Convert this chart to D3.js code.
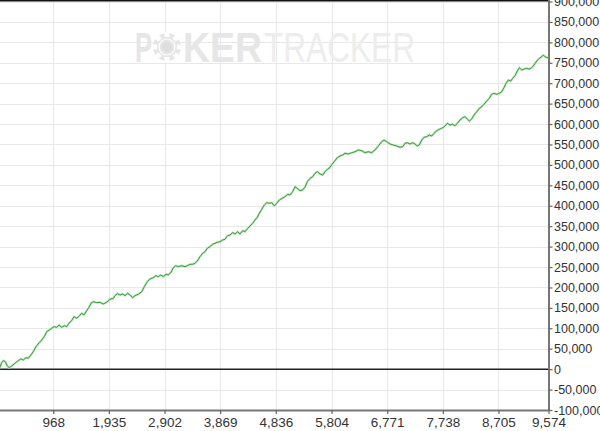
<!DOCTYPE html>
<html>
<head>
<meta charset="utf-8">
<script src="https://cdn.jsdelivr.net/npm/d3@7"></script>
<style>
  html, body { margin: 0; padding: 0; background: #fff; }
  svg { display: block; }
</style>
</head>
<body>
<svg id="chart" width="600" height="431"></svg>
<script>
// ---- data ----
const hands = [
  0, 43, 73, 101, 136, 170, 205, 247, 304, 361,
  403, 448, 495, 535, 577, 622, 669, 726, 768, 813,
  855, 900, 942, 987, 1029, 1069, 1116, 1161, 1202, 1242,
  1289, 1329, 1376, 1421, 1463, 1503, 1550, 1590, 1625, 1665,
  1724, 1781, 1838, 1897, 1955, 2012, 2042, 2082, 2129, 2176,
  2215, 2262, 2302, 2349, 2389, 2447, 2506, 2551, 2603, 2650,
  2707, 2754, 2794, 2836, 2881, 2928, 2968, 3015, 3055, 3096,
  3142, 3201, 3258, 3298, 3345, 3392, 3432, 3472, 3519, 3566,
  3606, 3645, 3692, 3739, 3779, 3819, 3866, 3913, 3953, 3993,
  4040, 4087, 4127, 4174, 4214, 4261, 4301, 4348, 4387, 4434,
  4474, 4514, 4549, 4591, 4636, 4678, 4723, 4765, 4810, 4851,
  4897, 4949, 4996, 5043, 5082, 5129, 5169, 5209, 5256, 5303,
  5343, 5383, 5430, 5477, 5517, 5557, 5604, 5651, 5691, 5731,
  5778, 5817, 5852, 5904, 5951, 5998, 6038, 6096, 6155, 6212,
  6269, 6328, 6386, 6443, 6502, 6559, 6617, 6676, 6716, 6763,
  6820, 6877, 6936, 6994, 7041, 7081, 7121, 7168, 7215, 7255,
  7294, 7329, 7371, 7411, 7458, 7503, 7545, 7585, 7632, 7677,
  7718, 7764, 7816, 7863, 7909, 7949, 7989, 8036, 8083, 8123,
  8163, 8198, 8240, 8280, 8327, 8372, 8414, 8453, 8500, 8546,
  8587, 8627, 8674, 8719, 8761, 8801, 8836, 8876, 8917, 8952,
  8992, 9032, 9067, 9109, 9149, 9195, 9240, 9282, 9322, 9369,
  9414, 9456, 9484, 9513, 9553, 9574
];
const winnings = [
  0, 4700, 15900, 20800, 18400, 7800, 3700, 7800, 14400, 20800,
  25000, 22500, 28100, 26700, 34000, 42800, 55100, 64900, 71500, 79500,
  91800, 95900, 100100, 104000, 102500, 108200, 102500, 106500, 104000, 112300,
  118700, 128500, 124600, 130200, 136800, 132600, 143200, 151500, 161300, 165200,
  162800, 163700, 159600, 163700, 171000, 173500, 179900, 184800, 181600, 184000,
  179900, 185800, 181600, 175000, 179900, 183300, 189700, 201900, 214100, 220800,
  223900, 228800, 226400, 230500, 226400, 232300, 230500, 237200, 248400, 253300,
  250900, 253300, 250900, 253300, 256700, 256700, 259200, 264800, 275300, 283700,
  287600, 295900, 299800, 305700, 308100, 310600, 312000, 316200, 317900, 326000,
  328400, 334100, 330900, 336500, 330900, 339000, 336500, 344800, 350500, 357100,
  365200, 371800, 381500, 391300, 401900, 407500, 406000, 407500, 399400, 406000,
  414100, 418300, 422200, 428000, 426300, 434400, 446700, 442700, 436900, 438600,
  445200, 458900, 467200, 471100, 479400, 483400, 477700, 475300, 483400, 489200,
  494000, 502200, 508300, 517600, 521800, 524200, 528400, 526700, 529900, 532300,
  536500, 534800, 529900, 532300, 529900, 536500, 546300, 556800, 560900, 556800,
  551200, 548700, 546300, 543100, 544600, 552900, 554300, 551200, 554300, 551200,
  546300, 548700, 560900, 567600, 569000, 573200, 570700, 577300, 583700, 587100,
  589600, 593500, 601800, 597700, 599400, 595900, 601800, 609900, 615500, 618000,
  612300, 607400, 612300, 622100, 630200, 638500, 642400, 648300, 656400, 663000,
  672800, 675200, 672800, 675200, 679200, 688900, 699700, 707800, 705300, 711900,
  718300, 729800, 737900, 732300, 734700, 736400, 734700, 737900, 744500, 754300,
  760900, 764800, 769000, 764800, 762400, 762400
];
const xTicks = [968, 1935, 2902, 3869, 4836, 5804, 6771, 7738, 8705, 9574];
const xTickLabels = ["968", "1,935", "2,902", "3,869", "4,836", "5,804", "6,771", "7,738", "8,705", "9,574"];
const yTicks = [-100000, -50000, 0, 50000, 100000, 150000, 200000, 250000, 300000, 350000,
  400000, 450000, 500000, 550000, 600000, 650000, 700000, 750000, 800000, 850000, 900000];
const yTickLabels = ["-100,000", "-50,000", "0", "50,000", "100,000", "150,000", "200,000", "250,000",
  "300,000", "350,000", "400,000", "450,000", "500,000", "550,000", "600,000", "650,000",
  "700,000", "750,000", "800,000", "850,000", "900,000"];

// ---- layout ----
const plotLeft = 0, plotRight = 548.5, plotTop = 0, plotBottom = 410;
const x = d3.scaleLinear().domain([0, 9574]).range([-2.5, 548.5]);
const y = d3.scaleLinear().domain([-100000, 900000]).range([410, 1.5]);

const svg = d3.select("#chart");
const n = Math.min(hands.length, winnings.length);
const pts = d3.range(n).map(i => ({ h: hands[i], v: winnings[i] }));

svg.append("rect").attr("width", 600).attr("height", 431).attr("fill", "#fff");

svg.append("defs").append("clipPath").attr("id", "plotclip")
  .append("rect").attr("x", plotLeft).attr("y", plotTop)
  .attr("width", plotRight - plotLeft).attr("height", plotBottom - plotTop);

// grid
const grid = svg.append("g");
grid.selectAll("line.h").data(yTicks).join("line")
  .attr("x1", plotLeft).attr("x2", plotRight)
  .attr("y1", d => Math.round(y(d)) + 0.5).attr("y2", d => Math.round(y(d)) + 0.5)
  .attr("stroke", "#e8e8e8").attr("stroke-width", 1);
grid.selectAll("line.v").data(xTicks.slice(0, -1)).join("line")
  .attr("x1", d => Math.round(x(d)) + 0.5).attr("x2", d => Math.round(x(d)) + 0.5)
  .attr("y1", plotTop).attr("y2", plotBottom)
  .attr("stroke", "#e8e8e8").attr("stroke-width", 1);

// watermark
const wm = svg.append("g").attr("class", "watermark");
const wmBase = 62;
wm.append("text").attr("x", 135).attr("y", wmBase)
  .attr("font-family", "Liberation Sans Narrow, Liberation Sans, Arial, sans-serif")
  .attr("font-weight", "bold").attr("font-size", 42).attr("fill", "#e6e6e6")
  .attr("textLength", 17).attr("lengthAdjust", "spacingAndGlyphs").text("P");
const chip = wm.append("g").attr("transform", "translate(167,47)");
chip.append("circle").attr("r", 14).attr("fill", "#e6e6e6");
chip.selectAll("rect").data(d3.range(8)).join("rect")
  .attr("x", -2.5).attr("y", -15).attr("width", 5).attr("height", 5)
  .attr("fill", "#fff").attr("transform", d => `rotate(${d * 45})`);
chip.append("circle").attr("r", 8).attr("fill", "none").attr("stroke", "#fff").attr("stroke-width", 1.2);
chip.append("circle").attr("r", 5).attr("fill", "#dedede");
wm.append("text").attr("x", 183).attr("y", wmBase)
  .attr("font-family", "Liberation Sans Narrow, Liberation Sans, Arial, sans-serif")
  .attr("font-weight", "bold").attr("font-size", 42).attr("fill", "#e6e6e6")
  .attr("textLength", 79).attr("lengthAdjust", "spacingAndGlyphs").text("KER");
wm.append("text").attr("x", 264).attr("y", wmBase)
  .attr("font-family", "Liberation Sans Narrow, Liberation Sans, Arial, sans-serif")
  .attr("font-size", 42).attr("fill", "#ededed")
  .attr("textLength", 151).attr("lengthAdjust", "spacingAndGlyphs").text("TRACKER");

// zero line
svg.append("line")
  .attr("x1", plotLeft).attr("x2", plotRight)
  .attr("y1", y(0)).attr("y2", y(0))
  .attr("stroke", "#222").attr("stroke-width", 1.5);

// top border
svg.append("line")
  .attr("x1", plotLeft).attr("x2", plotRight)
  .attr("y1", 0.75).attr("y2", 0.75)
  .attr("stroke", "#111").attr("stroke-width", 1.5);

// data line
const line = d3.line().x(d => x(d.h)).y(d => y(d.v));
svg.append("path").datum(pts)
  .attr("clip-path", "url(#plotclip)")
  .attr("d", line).attr("fill", "none")
  .attr("stroke", "#b9e3b9").attr("stroke-width", 2.2).attr("stroke-linejoin", "miter");
svg.append("path").datum(pts)
  .attr("clip-path", "url(#plotclip)")
  .attr("d", line).attr("fill", "none")
  .attr("stroke", "#3c9f3c").attr("stroke-width", 1).attr("stroke-linejoin", "miter");

// bottom axis
const xAxis = d3.axisBottom(x).tickValues(xTicks)
  .tickFormat((d, i) => xTickLabels[i]).tickSizeInner(4).tickSizeOuter(0).tickPadding(3);
const gx = svg.append("g").attr("transform", `translate(0,${plotBottom})`).call(xAxis);
gx.select(".domain").attr("d", `M${plotLeft},0.5H${plotRight}`).attr("stroke", "#777").attr("stroke-width", 2);
gx.selectAll(".tick line").attr("stroke", "#666").attr("stroke-width", 1.2);
gx.selectAll(".tick text").attr("font-family", "Liberation Sans Narrow, Liberation Sans, Arial, sans-serif")
  .attr("font-size", 13.5).attr("fill", "#333");

// right axis
const yAxis = d3.axisRight(y).tickValues(yTicks)
  .tickFormat((d, i) => yTickLabels[i]).tickSizeInner(4).tickSizeOuter(0).tickPadding(1.5);
const gy = svg.append("g").attr("transform", `translate(${plotRight},0)`).call(yAxis);
gy.select(".domain").attr("d", `M0.5,0V${plotBottom + 1}`).attr("stroke", "#777").attr("stroke-width", 2);
gy.selectAll(".tick line").attr("stroke", "#666").attr("stroke-width", 1.2);
gy.selectAll(".tick text").attr("font-family", "Liberation Sans, Arial, sans-serif")
  .attr("font-size", 12.5).attr("fill", "#333");
</script>
</body>
</html>
